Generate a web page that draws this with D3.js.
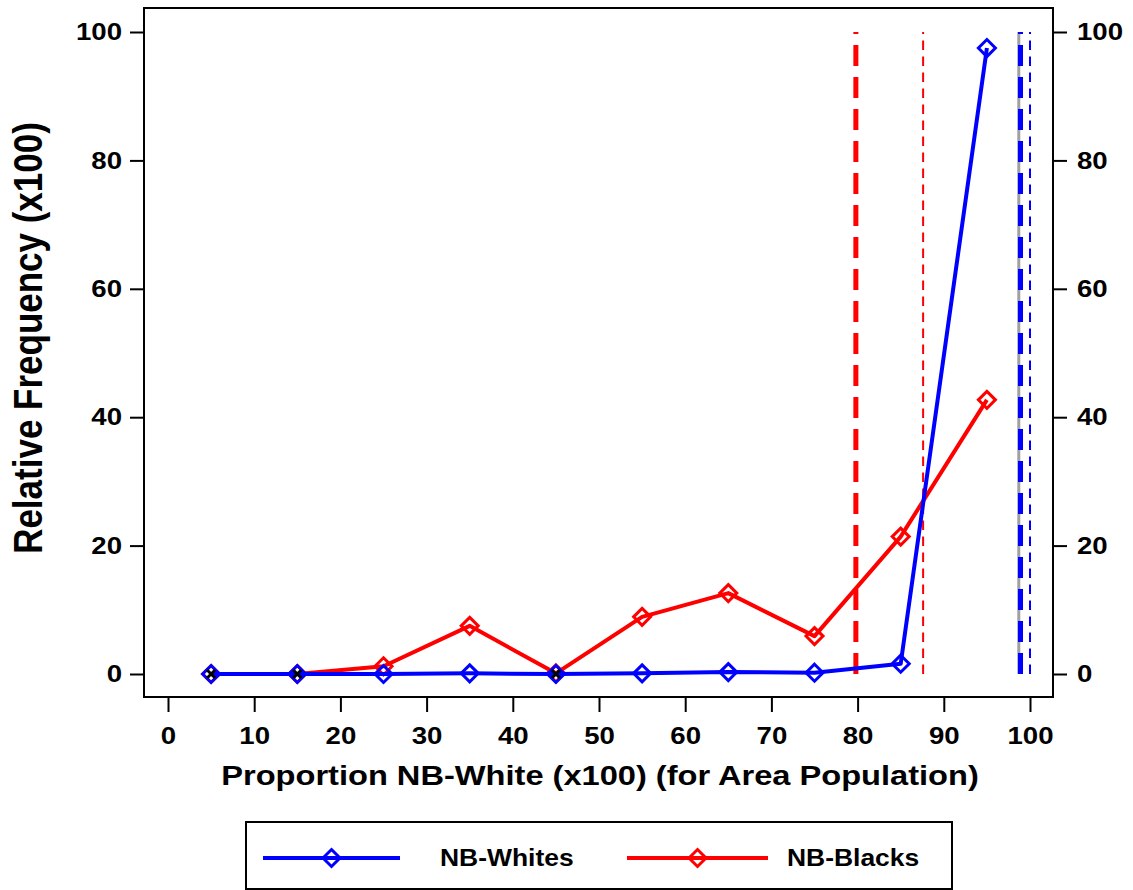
<!DOCTYPE html>
<html><head><meta charset="utf-8">
<script src="https://cdn.jsdelivr.net/npm/d3@7"></script>
<style>body{margin:0;background:#fff}svg{display:block}text{font-family:"Liberation Sans",Arial,sans-serif;font-weight:bold}</style>
</head><body>
<script>
const bins = [5, 15, 25, 35, 45, 55, 65, 75, 85, 95];
const whites = [0, 0, 0, 0.1, 0, 0.1, 0.3, 0.2, 1.6, 97.5];
const blacks = [0, 0, 1.2, 7.5, 0.1, 8.9, 12.6, 5.9, 21.4, 42.7];
const overlapBins = [5, 15, 45];
const xTicks = [0, 10, 20, 30, 40, 50, 60, 70, 80, 90, 100];
const yTicks = [0, 20, 40, 60, 80, 100];
const refLines = [
  {x: 79.8, color: "#ff0000", w: 5, dash: "21,11"},
  {x: 87.6, color: "#ff0000", w: 2, dash: "9.5,6.5"},
  {x: 98.7, color: "#a0a0a0", w: 3, dash: null},
  {x: 98.9, color: "#0000ff", w: 5, dash: "21,11"},
  {x: 100, color: "#0000ff", w: 2, dash: "9.5,6.5"}
];
const seriesNames = ["NB-Whites", "NB-Blacks"];
const seriesColors = ["#0000ff", "#ff0000"];

const W = 1133, H = 890, SX = 1.15;
const frame = {l: 144, t: 8, r: 1053, b: 697};
const svg = d3.select("body").append("svg").attr("width", W).attr("height", H);
const x = d3.scaleLinear().domain([0, 100]).range([168, 1030]);
const y = d3.scaleLinear().domain([0, 100]).range([674, 32]);

// horizontally stretch a text element around its anchor point
function stretch(sel, sx) {
  sel.each(function () {
    const t = d3.select(this);
    const tx = +t.attr("x") || 0;
    t.attr("x", tx / sx).attr("transform", `scale(${sx},1)`);
  });
}

// frame
svg.append("rect").attr("x", frame.l).attr("y", frame.t)
  .attr("width", frame.r - frame.l).attr("height", frame.b - frame.t)
  .attr("fill", "none").attr("stroke", "#000").attr("stroke-width", 2);

// axes
const ax = svg.append("g").attr("transform", `translate(0,${frame.b})`)
  .call(d3.axisBottom(x).tickValues(xTicks).tickSize(15).tickPadding(15));
const ayl = svg.append("g").attr("transform", `translate(${frame.l},0)`)
  .call(d3.axisLeft(y).tickValues(yTicks).tickSize(14).tickPadding(8));
const ayr = svg.append("g").attr("transform", `translate(${frame.r},0)`)
  .call(d3.axisRight(y).tickValues(yTicks).tickSize(14).tickPadding(10));
[ax, ayl, ayr].forEach(g => {
  g.select(".domain").remove();
  g.selectAll("line").attr("stroke", "#000").attr("stroke-width", 2);
  g.selectAll("text").attr("fill", "#000").style("font-size", "24px")
   .style("font-family", '"Liberation Sans",Arial,sans-serif').style("font-weight", "bold");
});
stretch(ayl.selectAll("text"), SX);
stretch(ayr.selectAll("text"), SX);
ax.selectAll("text").attr("transform", `scale(${SX},1)`);
ax.selectAll(".tick").each(function () {
  // bottom axis texts are at x=0 within translated ticks; scale keeps them centred
});

// axis titles
svg.append("text").attr("transform", `translate(600,785) scale(1.165,1)`)
  .attr("text-anchor", "middle").style("font-size", "28px").text("Proportion NB-White (x100) (for Area Population)");
svg.append("text").attr("transform", `translate(42,338) scale(${SX},1) rotate(-90)`)
  .attr("text-anchor", "middle").style("font-size", "35px").text("Relative Frequency (x100)");

// reference lines
refLines.forEach(r => {
  svg.append("line").attr("x1", x(r.x)).attr("x2", x(r.x)).attr("y1", y(0)).attr("y2", y(100))
    .attr("stroke", r.color).attr("stroke-width", r.w)
    .attr("stroke-dasharray", r.dash);
});

const diamond = (g, cx, cy, color) => {
  const s = 8.5;
  g.append("path").attr("d", `M${cx},${cy - s}L${cx + s},${cy}L${cx},${cy + s}L${cx - s},${cy}Z`)
    .attr("fill", "none").attr("stroke", color).attr("stroke-width", 3);
};
const line = d3.line().x(d => x(d[0])).y(d => y(d[1]));
const data = [whites, blacks];
[1, 0].forEach(i => {
  const pts = bins.map((b, j) => [b, data[i][j]]);
  const g = svg.append("g");
  g.append("path").datum(pts).attr("d", line).attr("fill", "none")
    .attr("stroke", seriesColors[i]).attr("stroke-width", 4).attr("stroke-linejoin", "round");
  pts.forEach(p => diamond(g, x(p[0]), y(p[1]), seriesColors[i]));
});
// overlap markers
overlapBins.forEach(b => {
  const cx = x(b), cy = y(0), s = 4;
  svg.append("path").attr("d", `M${cx - s},${cy - s}L${cx + s},${cy + s}M${cx - s},${cy + s}L${cx + s},${cy - s}`)
    .attr("stroke", "#000").attr("stroke-width", 3);
});

// legend
svg.append("rect").attr("x", 246).attr("y", 822).attr("width", 706).attr("height", 67)
  .attr("fill", "none").attr("stroke", "#000").attr("stroke-width", 2);
const lg = [{x0: 263, x1: 400, tx: 440}, {x0: 627, x1: 768, tx: 787}];
lg.forEach((l, i) => {
  const ly = 858;
  svg.append("line").attr("x1", l.x0).attr("x2", l.x1).attr("y1", ly).attr("y2", ly)
    .attr("stroke", seriesColors[i]).attr("stroke-width", 4);
  diamond(svg, (l.x0 + l.x1) / 2, ly, seriesColors[i]);
  svg.append("text").attr("transform", `translate(${l.tx},${ly + 8}) scale(${SX},1)`)
    .style("font-size", "23px").text(seriesNames[i]);
});
</script>
</body></html>
